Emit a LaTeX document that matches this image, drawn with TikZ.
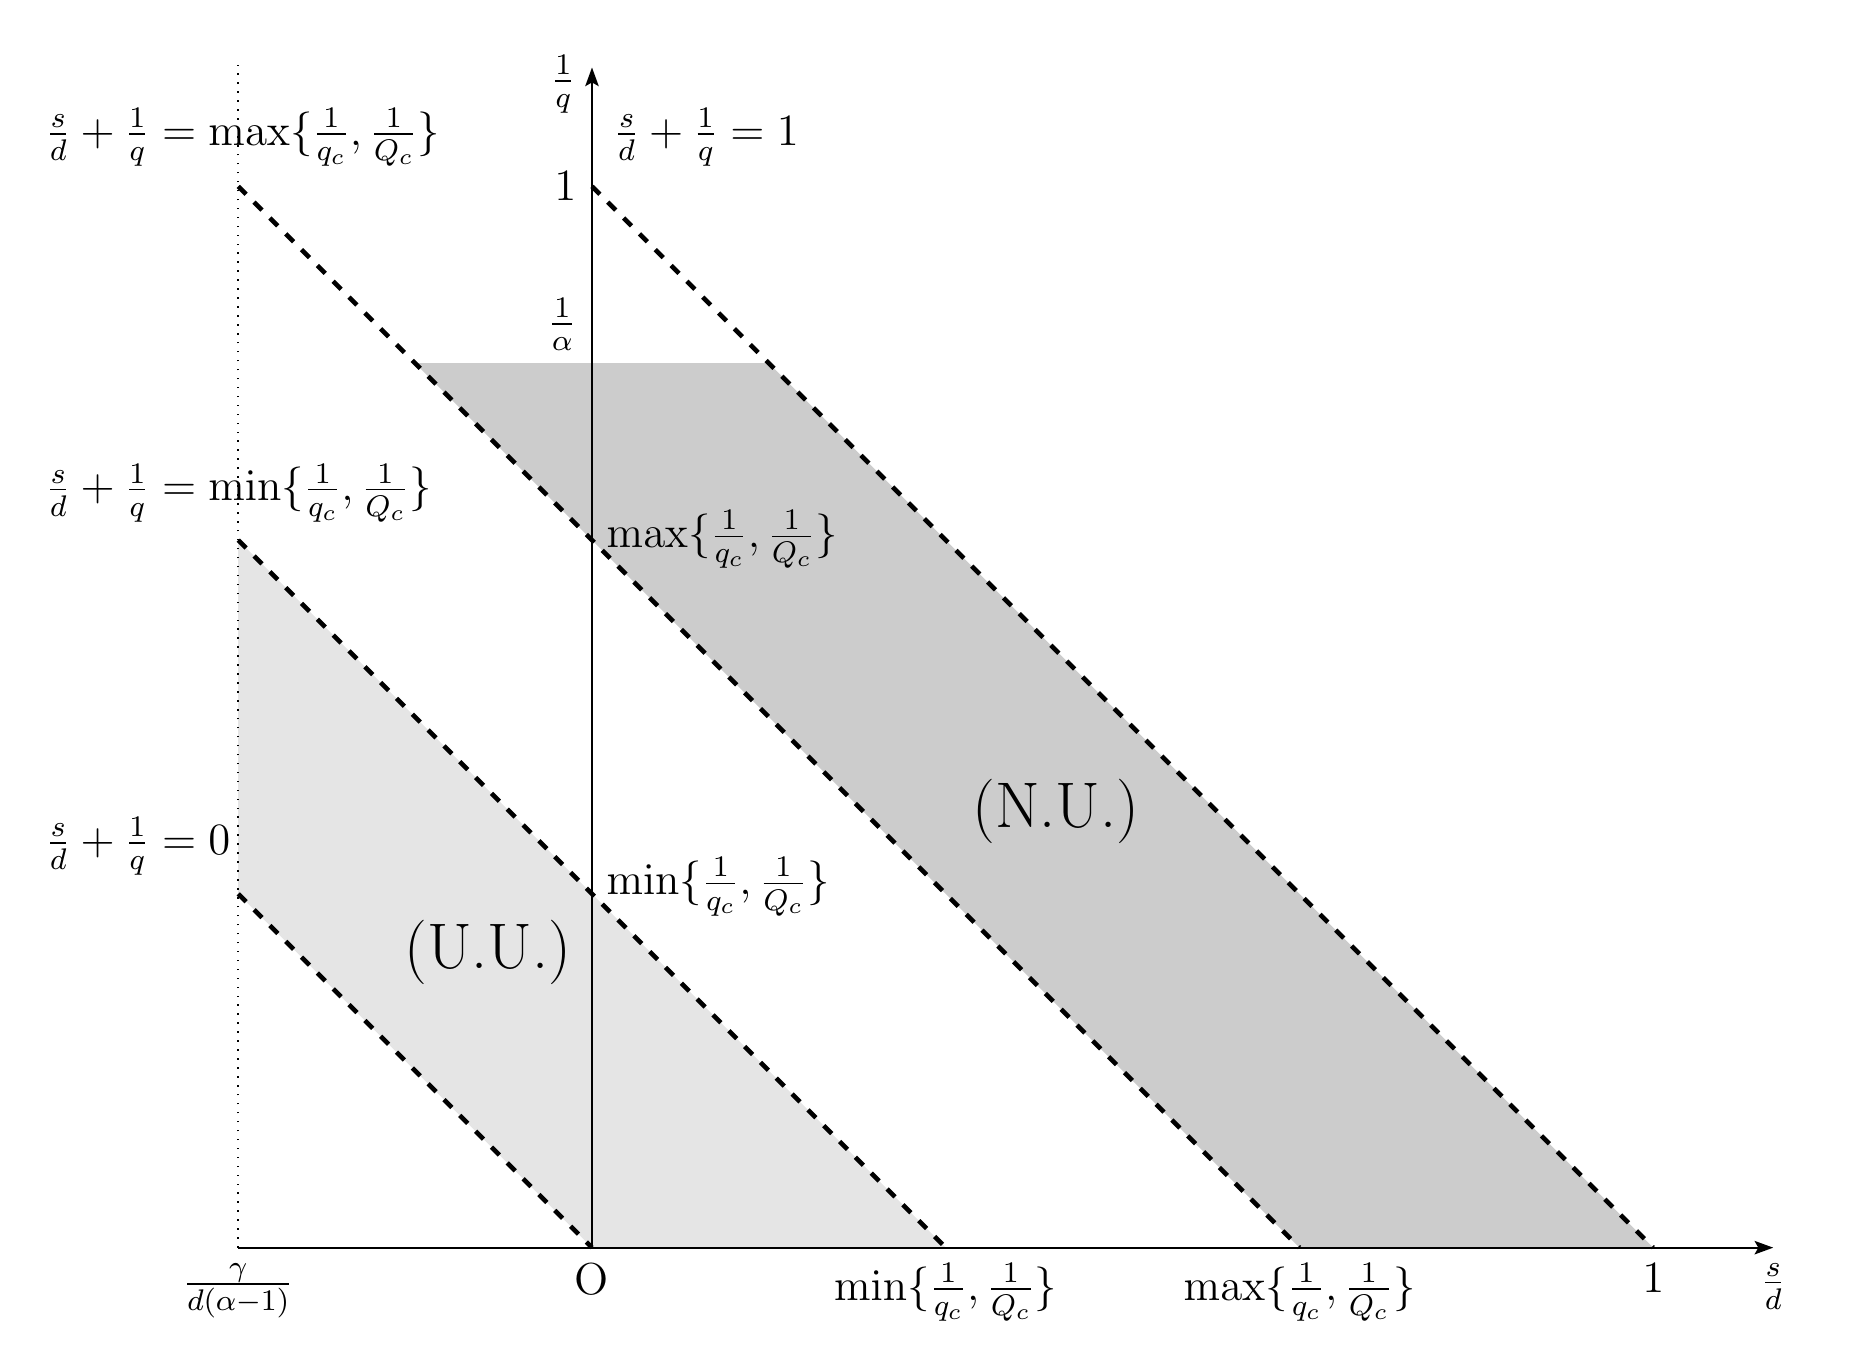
\documentclass[tikz,border=0pt,12pt]{standalone}
\usetikzlibrary{arrows.meta}
\tikzset{
  bound/.style={very thick,dashed},
  axisline/.style={line width=0.55pt,-{Stealth[length=5pt,width=3.6pt,inset=1pt]}},
  regionN/.style={fill=black!20},
  regionU/.style={fill=black!10},
  lbl/.style={inner sep=0pt},
  bigl/.style={font=\Large}
}
\begin{document}
\begin{tikzpicture}[x=10cm,y=10cm]
\useasboundingbox (-0.5578,-0.1040) rectangle (1.1844,1.1756);
% shaded regions
\fill[regionN] (-1/6,5/6) -- (1/6,5/6) -- (1,0) -- (2/3,0) -- cycle;
\fill[regionU] (-1/3,2/3) -- (1/3,0) -- (0,0) -- (-1/3,1/3) -- cycle;
% coordinates
\coordinate (O) at (0,0);
\coordinate (xl) at (-1/3,0);
\coordinate (xe) at (1.113,0);
\coordinate (ye) at (0,1.112);
\coordinate (dt) at (-1/3,1.114);
\coordinate (xmin) at (1/3,0);
\coordinate (xmax) at (2/3,0);
\coordinate (xone) at (1,0);
\coordinate (yone) at (0,1);
\coordinate (lmax) at (-1/3,1);
\coordinate (lmin) at (-1/3,2/3);
\coordinate (lzero) at (-1/3,1/3);
% dotted line and axes
\draw[dotted] (xl) -- (dt);
\draw[axisline] (xl) -- (xe);
\draw[axisline] (O) -- (ye);
% boundary lines
\draw[bound] (yone) -- (xone);
\draw[bound] (lmax) -- (xmax);
\draw[bound] (lmin) -- (xmin);
\draw[bound] (lzero) -- (O);
% left labels
\node[lbl,anchor=west] (tmax) at (-0.5156,1.046) {$\frac{s}{d}+\frac{1}{q}=\max\{\frac{1}{q_c},\frac{1}{Q_c}\}$};
\node[lbl,anchor=west] (tmin) at (-0.5156,0.711) {$\frac{s}{d}+\frac{1}{q}=\min\{\frac{1}{q_c},\frac{1}{Q_c}\}$};
\node[lbl,anchor=west] (tzero) at (-0.5156,0.378) {$\frac{s}{d}+\frac{1}{q}=0$};
% y-axis labels
\node (yq) at (-0.027,1.096) {$\frac{1}{q}$};
\node[lbl,anchor=west] (tone) at (0.020,1.046) {$\frac{s}{d}+\frac{1}{q}=1$};
\node[left] (y1) at (yone) {$1$};
\node (ya) at (-0.028,0.870) {$\frac{1}{\alpha}$};
\node[lbl,anchor=west] (ymax) at (0.013,0.667) {$\max\{\frac{1}{q_c},\frac{1}{Q_c}\}$};
\node[lbl,anchor=west] (ymin) at (0.013,0.340) {$\min\{\frac{1}{q_c},\frac{1}{Q_c}\}$};
% x-axis labels
\node[below] (xg) at (xl) {$\frac{\gamma}{d(\alpha-1)}$};
\node[below] (xo) at (O) {O};
\node[below] (xmn) at (xmin) {$\min\{\frac{1}{q_c},\frac{1}{Q_c}\}$};
\node[below] (xmx) at (xmax) {$\max\{\frac{1}{q_c},\frac{1}{Q_c}\}$};
\node[below] (x1) at (xone) {$1$};
\node[below] (xsd) at (xe) {$\frac{s}{d}$};
% region labels
\node[bigl] (NU) at (0.437,0.411) {(N.U.)};
\node[bigl] (UU) at (-0.098,0.278) {(U.U.)};
\end{tikzpicture}
\end{document}
